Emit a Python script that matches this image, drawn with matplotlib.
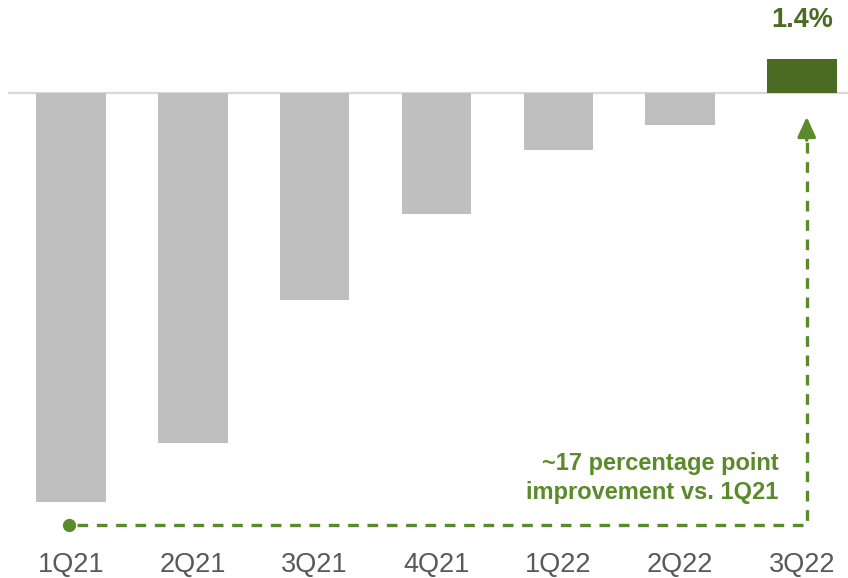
import matplotlib
matplotlib.use("Agg")
from matplotlib import pyplot as plt
import numpy as np

# quarterly change, percent
quarters = ["1Q21", "2Q21", "3Q21", "4Q21", "1Q22", "2Q22", "3Q22"]
values = [-16.6, -14.2, -8.4, -4.9, -2.3, -1.3, 1.4]
label_text = "1.4%"
note_text = "~17 percentage point\nimprovement vs. 1Q21"

GREEN = "#5b8a2a"
DARK_GREEN = "#4b6b22"
GREY = "#bfbfbf"

plt.rcParams["font.family"] = ["Liberation Sans", "DejaVu Sans"]

fig = plt.figure(figsize=(8.48, 5.78), dpi=100)
ax = fig.add_axes([0, 0, 1, 1])
ax.set_xlim(-0.583, 6.379)
ax.set_ylim(-19.70, 3.80)
ax.axis("off")

x = np.arange(len(quarters))
colors = [GREY] * (len(values) - 1) + [DARK_GREEN]
ax.bar(x, values, width=0.57, color=colors, zorder=2)

# zero line
ax.plot([-0.51, 6.379], [0, 0], color="#d9d9d9", lw=1.6, zorder=1)

# value label on last bar
ax.text(x[-1], values[-1] + 1.6, label_text, ha="center", va="center",
        fontsize=19.5, fontweight="bold", color=DARK_GREEN)

# category labels
for xi, q in zip(x, quarters):
    ax.text(xi, -19.17, q, ha="center", va="center", fontsize=19.5, color="#595959")

# dashed connector from 1Q21 to 3Q22
y_base = -17.55
x_end = 6.04
ax.plot([x[0] - 0.02], [y_base], "o", color=GREEN, ms=8.5, zorder=3)
ax.plot([x[0] + 0.05, x_end, x_end], [y_base, y_base, -1.9],
        color=GREEN, lw=2.4, dashes=(3.2, 2.6), solid_joinstyle="miter", zorder=3)
ax.annotate("", xy=(x_end, -0.95), xytext=(x_end, -1.9),
            arrowprops=dict(arrowstyle="-|>,head_width=0.55,head_length=1.2",
                            color=GREEN, lw=2.4, shrinkA=0, shrinkB=0))

ax.text(5.81, -15.63, note_text, ha="right", va="center", fontsize=17,
        fontweight="bold", color=GREEN, linespacing=1.3)

fig.savefig("out.png", dpi=100)
